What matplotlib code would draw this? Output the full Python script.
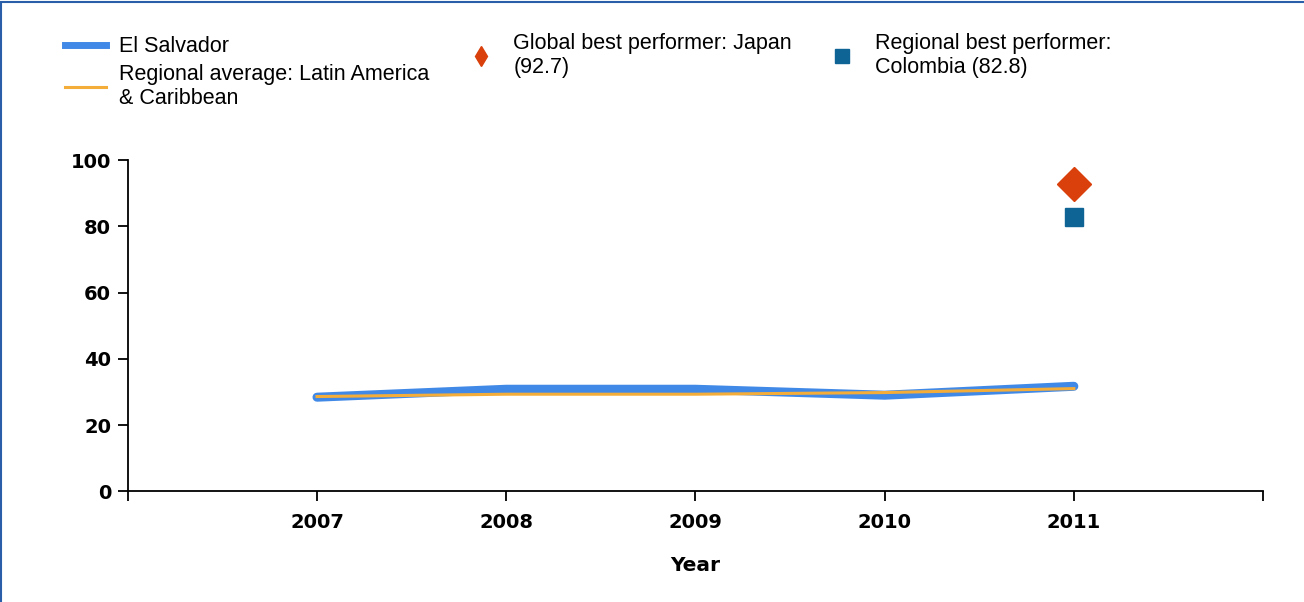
import matplotlib.pyplot as plt
from matplotlib.lines import Line2D
from matplotlib.patches import Rectangle

years = [2007, 2008, 2009, 2010, 2011]
el_salvador = [28.4, 30.8, 30.8, 29.0, 31.7]
regional_avg = [28.6, 29.3, 29.3, 29.8, 31.0]
best_year = 2011
japan = 92.7
colombia = 82.8

BLUE = '#4189e6'
ORANGE = '#f5ad3a'
RED = '#d9400b'
TEAL = '#0f6496'

fig = plt.figure(figsize=(13.04, 6.02), dpi=100)
ax = fig.add_axes([0.098, 0.184, 0.8706, 0.55])

ax.plot(years, el_salvador, color=BLUE, lw=6.5, solid_capstyle='round',
        solid_joinstyle='round', zorder=2)
ax.plot(years, regional_avg, color=ORANGE, lw=2.2, zorder=3)
ax.plot([best_year], [japan], marker='D', ms=17, color=RED, ls='none', zorder=4)
ax.plot([best_year], [colombia], marker='s', ms=13, color=TEAL, ls='none', zorder=4)

ax.set_xlim(2006, 2012)
ax.set_ylim(0, 100)
ax.set_xticks([2006] + years + [2012])
ax.set_xticklabels([''] + [str(y) for y in years] + [''])
ax.set_yticks(range(0, 101, 20))
for s in ['top', 'right']:
    ax.spines[s].set_visible(False)
for s in ['left', 'bottom']:
    ax.spines[s].set_linewidth(1.3)
ax.tick_params(length=7, width=1.3, labelsize=14, pad=5)
for lbl in ax.get_xticklabels() + ax.get_yticklabels():
    lbl.set_fontweight('bold')
ax.tick_params(axis='x', pad=9)
ax.set_xlabel('Year', fontsize=14.5, fontweight='bold', labelpad=17)

font = dict(family='Liberation Sans', size=15.5)
common = dict(frameon=False, prop=font, labelspacing=0.3,
              borderaxespad=0, borderpad=0, loc='upper left')

h1 = [Line2D([], [], color=BLUE, lw=5), Line2D([], [], color=ORANGE, lw=2.2)]
fig.legend(h1, ['El Salvador', 'Regional average: Latin America\n& Caribbean'],
           bbox_to_anchor=(0.0498, 0.94), handlelength=1.9, handletextpad=0.6,
           **common)
fig.legend([Line2D([], [], marker='d', ms=10, color=RED, ls='none')],
           ['Global best performer: Japan\n(92.7)'],
           bbox_to_anchor=(0.359, 0.945), handlelength=1.2, handletextpad=0.9,
           **common)
fig.legend([Line2D([], [], marker='s', ms=10, color=TEAL, ls='none')],
           ['Regional best performer:\nColombia (82.8)'],
           bbox_to_anchor=(0.636, 0.945), handlelength=1.2, handletextpad=0.9,
           **common)

fig.patches.append(Rectangle((0.001, -0.01), 1.5, 1.006, transform=fig.transFigure,
                             fill=False, edgecolor='#2a5ea8', lw=1.5))

fig.savefig('out.png', dpi=100)
